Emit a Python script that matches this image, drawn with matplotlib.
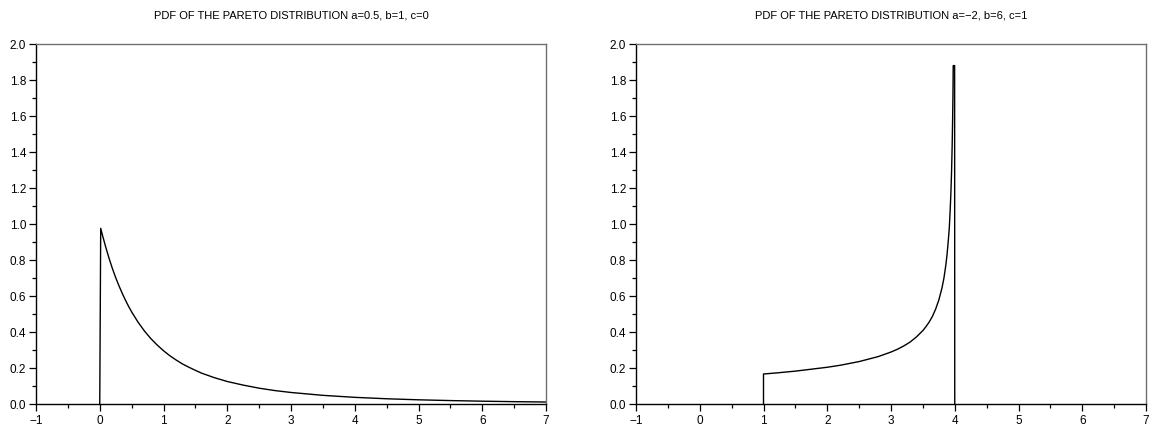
import matplotlib
matplotlib.use("Agg")
import matplotlib.pyplot as plt
from matplotlib.ticker import MultipleLocator, FormatStrFormatter

plt.rcParams['font.family'] = ['Liberation Sans', 'DejaVu Sans']

# Left panel: a=0.5, b=1, c=0
left_title = "PDF OF THE PARETO DISTRIBUTION a=0.5, b=1, c=0"
left_x = [0.0, 0.0, 0.015, 0.05, 0.1, 0.15, 0.2, 0.25, 0.3, 0.35, 0.4, 0.45, 0.5,
          0.6, 0.7, 0.8, 0.9, 1.0, 1.1, 1.2, 1.3, 1.4, 1.5, 1.6, 1.8, 2.0, 2.25,
          2.5, 2.75, 3.0, 3.5, 4.0, 4.5, 5.0, 5.5, 6.0, 6.5, 7.0]
left_y = [0.0, 0.0, 0.976, 0.928, 0.864, 0.805, 0.751, 0.702, 0.658, 0.617, 0.579,
          0.544, 0.512, 0.455, 0.406, 0.364, 0.328, 0.296, 0.268, 0.244, 0.222,
          0.204, 0.187, 0.171, 0.146, 0.125, 0.105, 0.0878, 0.0745, 0.064, 0.0481,
          0.037, 0.0291, 0.0233, 0.019, 0.0156, 0.013, 0.011]

# Right panel: a=-2, b=6, c=1
right_title = "PDF OF THE PARETO DISTRIBUTION a=\u22122, b=6, c=1"
right_x = [1.0, 1.0, 1.2, 1.5, 2.0, 2.2, 2.5, 2.8, 3.0, 3.1, 3.2, 3.3, 3.4, 3.5,
           3.55, 3.6, 3.65, 3.7, 3.75, 3.8, 3.83, 3.86, 3.88, 3.9, 3.915, 3.93,
           3.94, 3.95, 3.96, 3.967, 3.972, 3.976, 3.998, 4.0]
right_y = [0.0, 0.1667, 0.1725, 0.1826, 0.2041, 0.215, 0.2357, 0.2635, 0.2887,
           0.304, 0.3223, 0.3443, 0.373, 0.408, 0.4303, 0.456, 0.4869, 0.527,
           0.5774, 0.645, 0.6989, 0.7715, 0.8333, 0.913, 0.9813, 1.091, 1.1785,
           1.291, 1.4434, 1.5891, 1.7213, 1.88, 1.88, 0.0]

fig = plt.figure(figsize=(11.49, 4.27), dpi=100)
W, H = 1149, 427
axes_px = [(36, 546), (636, 1146)]
top_px, bottom_px = 45, 405

panels = [(left_x, left_y, left_title), (right_x, right_y, right_title)]
for (x0, x1), (xs, ys, title) in zip(axes_px, panels):
    ax = fig.add_axes([x0 / W, (H - bottom_px) / H, (x1 - x0) / W, (bottom_px - top_px) / H])
    ax.plot(xs, ys, color='black', lw=1.0)
    ax.set_xlim(-1, 7)
    ax.set_ylim(0, 2)
    ax.xaxis.set_major_locator(MultipleLocator(1))
    ax.xaxis.set_minor_locator(MultipleLocator(0.5))
    ax.yaxis.set_major_locator(MultipleLocator(0.2))
    ax.yaxis.set_minor_locator(MultipleLocator(0.1))
    ax.yaxis.set_major_formatter(FormatStrFormatter('%.1f'))
    ax.tick_params(which='major', direction='out', length=5, width=0.9, labelsize=8.5, pad=2, color='black')
    ax.tick_params(which='minor', direction='out', length=3, width=0.9, color='black')
    for s in ['left', 'bottom']:
        ax.spines[s].set_color('black')
        ax.spines[s].set_linewidth(1.0)
    for s in ['top', 'right']:
        ax.spines[s].set_color('#707070')
        ax.spines[s].set_linewidth(1.0)
    ax.set_title(title, fontsize=8, pad=19)

fig.savefig("out.png", dpi=100)
